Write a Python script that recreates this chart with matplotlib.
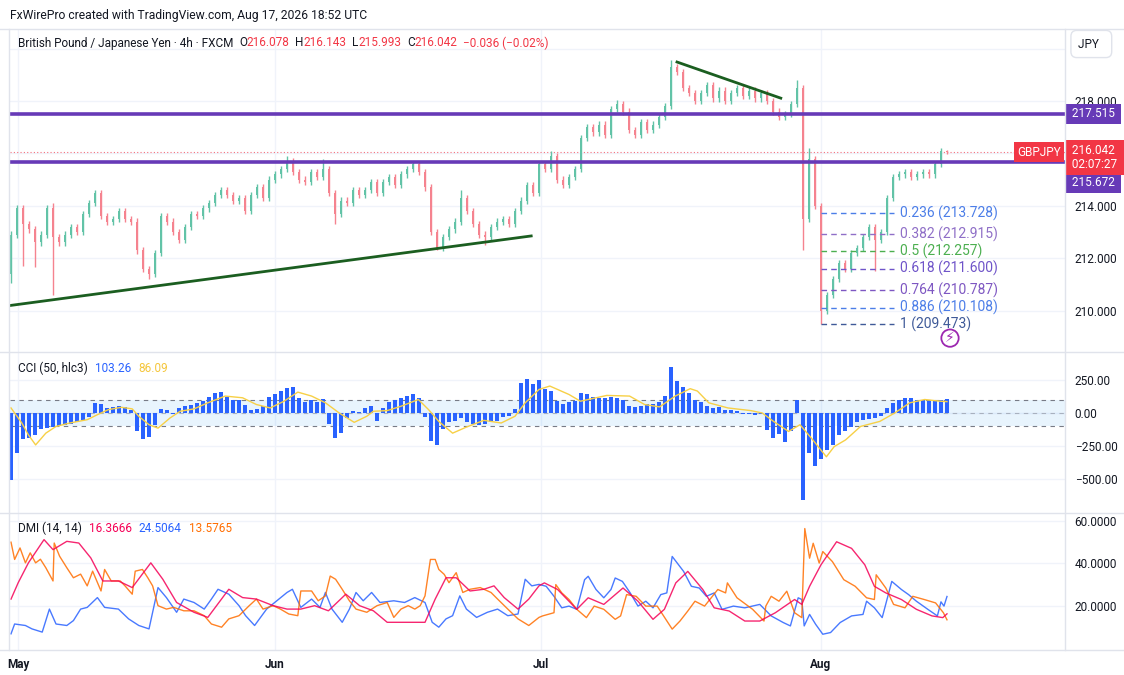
import matplotlib.pyplot as plt
import matplotlib.transforms as mtransforms
from matplotlib.lines import Line2D
import numpy as np

plt.rcParams['font.family'] = ['Roboto', 'DejaVu Sans']

# GBPJPY 4h (one close per ~6px column)
first_open = 211.4
closes = [212.9, 213.9, 213.3, 213.1, 212.6, 212.9, 213.9, 212.8, 212.6, 212.9,
          213.2, 213.0, 213.7, 214.1, 214.5, 213.6, 213.4, 213.5, 213.8, 213.5,
          213.4, 212.3, 211.6, 211.4, 212.2, 213.6, 213.4, 213.0, 212.7, 213.2,
          213.7, 213.6, 213.9, 214.1, 214.4, 214.6, 214.4, 214.2, 214.3, 213.8,
          214.4, 214.7, 214.3, 215.0, 215.2, 215.4, 215.7, 215.3, 215.0, 214.9,
          215.3, 215.1, 215.4, 214.5, 213.7, 214.2, 214.1, 214.6, 214.4, 214.6,
          214.9, 214.5, 214.9, 215.1, 214.8, 215.2, 215.4, 215.6, 215.3, 214.7,
          213.0, 212.4, 212.8, 213.1, 213.4, 214.3, 213.8, 213.3, 212.9, 212.8,
          213.2, 213.4, 213.5, 213.3, 213.8, 214.2, 214.8, 214.5, 215.6, 215.4,
          215.9, 215.0, 214.8, 215.1, 215.4, 216.6, 217.0, 216.8, 217.1, 216.7,
          217.7, 217.9, 217.6, 216.9, 216.7, 217.2, 216.9, 217.1, 217.4, 217.8,
          219.3, 219.1, 218.5, 218.3, 218.0, 218.3, 218.6, 218.1, 218.4, 218.0,
          218.3, 218.5, 218.2, 218.4, 218.1, 218.3, 218.0, 217.6, 217.4, 217.5,
          217.9, 218.5, 213.5, 215.8, 214.0, 210.0, 210.6, 211.2, 211.8, 211.6,
          212.2, 212.4, 212.8, 213.2, 212.7, 213.0, 214.3, 215.1, 215.2, 215.3,
          215.1, 215.2, 215.3, 215.2, 215.6, 216.078, 216.042]
# long wicks: bar -> (high, low), None = ordinary wick
extremes = {0: (None, 211.05), 2: (None, 211.7), 4: (None, 211.66), 7: (214.1, 210.6),
            23: (None, 211.2), 46: (215.9, None), 52: (215.8, None), 54: (None, 213.3),
            71: (None, 212.3), 75: (214.6, None), 79: (None, 212.5), 90: (216.1, None),
            101: (218.04, None), 110: (219.56, None), 131: (218.8, None), 132: (None, 212.3),
            133: (216.2, None), 135: (None, 209.47), 144: (None, 211.5), 156: (216.143, 215.993)}
wick = 0.12

cci = [-510, -300, -200, -190, -170, -125, -115, -110, -95, -90,
       -85, -70, -50, -30, 75, 65, 40, 45, 50, 45,
       20, -140, -200, -185, -90, 30, 20, -10, 40, 55,
       60, 75, 90, 120, 155, 160, 120, 100, 95, 60,
       25, 30, 55, 120, 140, 170, 190, 195, 110, 80,
       95, 85, 105, -80, -190, -150, -40, 15, 10, 35,
       50, -60, 40, 80, 95, 110, 130, 140, 110, -30,
       -210, -240, -120, -70, -60, -40, -70, -85, -90, -80,
       -70, -60, -30, -20, 30, 230, 260, 220, 250, 180,
       170, 90, 70, 80, 90, 150, 140, 120, 115, 110,
       120, 110, 100, 55, 45, 50, 70, 65, 80, 130,
       345, 240, 200, 150, 95, 85, 55, 40, 45, 25,
       20, 15, -5, -10, -15, -10, -130, -190, -160, -220,
       -140, 100, -660, -300, -400, -350, -280, -240, -170, -140,
       -110, -70, -55, -45, -35, -20, 40, 75, 95, 115,
       110, 100, 95, 90, 95, 100, 103.26]
cci_ma = [(0, 38), (1.8, -76), (2.9, -166), (4.1, -242), (5.8, -153), (7.5, -102), (9.8, -76),
          (12.7, -51), (14.4, -13), (16.2, 25), (18.4, 43), (20.2, 31), (21.3, -25), (23.0, -89),
          (24.5, -115), (26.5, -38), (28.2, 13), (30.5, 31), (32.8, 77), (35.7, 128), (38.6, 115),
          (40.9, 64), (43.2, 38), (45.5, 89), (47.8, 158), (50.1, 128), (52.4, 77), (54.7, 0),
          (57.2, -71), (59.3, -25), (60.4, 13), (62.7, 18), (65.0, 51), (67.9, 102), (69.6, 25),
          (71.3, -64), (73.6, -153), (75.9, -107), (78.8, -56), (81.7, -76), (84.0, -25),
          (85.7, 77), (88.0, 178), (89.8, 204), (93.0, 140), (94.9, 89), (99.3, 133), (103.1, 128),
          (105.6, 64), (108.1, 46), (110.7, 128), (113.2, 184), (114.4, 166), (116.3, 77),
          (119.5, 38), (123.3, 18), (125.2, 0), (127.1, -64), (129.6, -140), (131.5, -89),
          (133.4, -191), (135.9, -332), (137.2, -255), (139.1, -204), (141.6, -102), (144.8, -64),
          (147.3, 0), (149.8, 77), (152.3, 102), (154.9, 89), (156, 86.09)]

adx = [(0, 23.3), (1.2, 31), (2.9, 40.3), (5.5, 51.2), (7.0, 46.5), (9.3, 50.4), (11.3, 49.6),
       (13.3, 42.6), (15.3, 31.8), (17.9, 31.8), (20.2, 28.7), (23.3, 40.3), (25.3, 32.6),
       (27.6, 21.7), (30.5, 17.1), (32.8, 14.7), (36.3, 27.9), (38.6, 24), (40.9, 23.3),
       (43.7, 20.2), (46.0, 18.6), (48.3, 18.6), (50.6, 20.2), (52.9, 17.8), (55.8, 25.6),
       (58.1, 20.2), (60.4, 17.8), (62.7, 12.4), (65.0, 12.4), (69.0, 12.4), (70.7, 23.3),
       (72.5, 33.3), (74.2, 33.3), (76.5, 27.1), (78.8, 27.9), (80.5, 29.5), (82.2, 24),
       (84.5, 18.6), (86.3, 23.3), (88.0, 29.5), (88.9, 30.9), (91.1, 27.8), (94.3, 18.5),
       (96.2, 23.9), (98.8, 20.8), (102.0, 28.5), (104.5, 22.3), (107.0, 13.8), (108.9, 18.5),
       (110.8, 30.9), (112.8, 36.3), (115.3, 27.8), (117.2, 19.2), (119.7, 17.7), (122.3, 13),
       (124.8, 13), (127.4, 16.9), (130.6, 23.1), (131.8, 20.8), (133.1, 29.3), (135.0, 39.4),
       (137.6, 50.2), (140.1, 47.1), (142.3, 39.4), (143.9, 29.3), (145.8, 26.2), (148.4, 23.1),
       (150.9, 18.5), (153.5, 15.4), (155.3, 14.6), (156, 16.37)]
plus_di = [(0, 7), (0.6, 11.6), (2.4, 10.9), (3.5, 9.3), (5.2, 7.8), (6.4, 18.6), (7.5, 11.6),
           (9.3, 10.9), (10.4, 13.2), (11.6, 18.6), (12.7, 19.4), (14.4, 24), (15.6, 19.4),
           (17.9, 18.6), (19.6, 14), (21.3, 10.9), (23.0, 9.3), (24.5, 28.7), (25.9, 24),
           (27.6, 17.1), (28.8, 23.3), (30.5, 21.7), (32.2, 18.6), (33.4, 23.3), (34.5, 27.9),
           (36.3, 25.6), (38.0, 20.2), (39.1, 15.5), (40.6, 10.9), (42.6, 18.6), (44.3, 22.5),
           (46.0, 26.4), (46.9, 27.9), (48.3, 19.4), (50.1, 23.3), (51.5, 19.4), (52.4, 26.4),
           (53.5, 18.6), (55.2, 12.4), (56.4, 18.6), (57.5, 26.4), (58.7, 22.5), (60.1, 26.4),
           (61.5, 21.7), (63.8, 22.5), (65.6, 21.7), (67.3, 24), (69.0, 21.7), (70.2, 12.4),
           (71.3, 10.1), (72.5, 14), (73.6, 15.5), (74.8, 24.8), (75.9, 18.6), (77.6, 14.7),
           (79.4, 17.1), (81.1, 18.6), (82.8, 15.5), (84.5, 16.3), (85.7, 32.6), (86.8, 29.5),
           (88.0, 30.2), (89.2, 29.3), (90.5, 24.6), (91.8, 19.2), (93.0, 20), (94.3, 18.5),
           (95.6, 32.4), (96.2, 34), (97.5, 27.8), (98.8, 23.9), (100.0, 27.8), (100.7, 33.2),
           (101.9, 31.6), (103.2, 26.2), (104.5, 20), (105.8, 22.3), (107.0, 19.2), (108.3, 25.4),
           (109.3, 26.2), (110.2, 43.3), (112.1, 36.3), (113.4, 29.3), (114.7, 28.5), (115.9, 24.6),
           (117.2, 26.2), (118.5, 18.5), (120.4, 20), (122.3, 19.2), (124.8, 20.8), (126.7, 15.4),
           (128.7, 12.3), (129.9, 10.7), (131.2, 23.9), (131.8, 23.1), (132.2, 10.7), (133.1, 16.1),
           (134.1, 11.5), (135.3, 6.8), (136.6, 7.6), (138.2, 12.3), (140.1, 15.4), (142.0, 16.1),
           (142.6, 22.3), (143.9, 19.2), (145.2, 14.6), (146.8, 31.6), (148.4, 27.8), (149.6, 25.4),
           (150.9, 22.3), (152.8, 18.5), (154.4, 15.4), (155.0, 22), (155.5, 20), (156, 24.51)]
minus_di = [(0, 50), (0.6, 41.9), (1.5, 47.3), (2.4, 40.3), (3.2, 45), (4.1, 40.3), (4.9, 42),
            (5.8, 38), (7.0, 31.8), (7.2, 49.6), (8.1, 43.4), (9.3, 38), (10.4, 33.3), (11.6, 35),
            (12.7, 29.5), (13.6, 36.4), (15.0, 27.1), (15.6, 37.2), (16.7, 31.8), (18.2, 31.8),
            (19.0, 29.5), (20.2, 25.6), (20.7, 36.4), (21.9, 37.2), (22.8, 33.3), (23.6, 29.5),
            (24.5, 20.2), (25.9, 18.6), (27.1, 19.4), (28.8, 17.8), (30.5, 17.8), (32.2, 15.5),
            (33.4, 11.6), (35.1, 10.1), (36.3, 14), (38.0, 15.5), (39.7, 20.2), (40.9, 23.3),
            (42.0, 18.6), (43.7, 20.2), (44.9, 18.6), (46.3, 16.3), (47.8, 15.5), (48.3, 27.1),
            (50.1, 27.1), (51.2, 22.5), (52.4, 24.8), (53.2, 34.1), (54.1, 32.6), (55.2, 27.9),
            (56.4, 22.5), (57.5, 18.6), (59.3, 17.1), (61.0, 20.2), (62.7, 21.7), (63.8, 14.7),
            (65.0, 18.6), (66.2, 20.2), (67.3, 18.6), (68.2, 20.2), (69.0, 24.8), (69.9, 41.9),
            (70.7, 41.9), (71.3, 37.2), (72.2, 34.9), (73.0, 31), (74.2, 35.7), (75.3, 26.4),
            (76.5, 27.9), (78.2, 28.7), (80.0, 26.4), (81.1, 23.3), (82.8, 18.6), (84.5, 14),
            (86.3, 10.9), (88.0, 14.7), (88.6, 15.4), (90.5, 16.9), (90.8, 30.1), (91.8, 26.2),
            (93.0, 23.1), (94.3, 18.5), (95.9, 14.6), (97.2, 20), (98.8, 18.5), (100.7, 13.8),
            (101.6, 15.4), (102.6, 25.4), (104.2, 24.6), (105.8, 20), (107.7, 20), (110.2, 9.2),
            (111.5, 13), (112.8, 17.7), (114.0, 22.3), (115.6, 20), (117.8, 27.8), (119.1, 26.2),
            (119.4, 30.9), (121.0, 23.9), (123.6, 18.5), (125.5, 13), (125.8, 20), (126.7, 24.6),
            (128.0, 22.3), (129.3, 27), (130.6, 16.9), (131.8, 14.6), (132.3, 56.4), (133.1, 42.5),
            (133.7, 49.5), (134.7, 40.2), (135.3, 45.6), (136.9, 40.9), (138.8, 32.4), (140.7, 29.3),
            (142.6, 23.9), (143.9, 23.1), (144.2, 34.7), (145.8, 28.5), (147.1, 20.8), (149.0, 19.2),
            (150.3, 24.6), (152.2, 23.1), (154.1, 21.5), (155.4, 16.9), (156, 13.58)]

month_pos = [1.2, 44.0, 88.3, 135.0]
month_names = ['May', 'Jun', 'Jul', 'Aug']

levels = [217.515, 215.672]
last_price = 216.042
support = [(0, 210.2), (86.7, 212.85)]
resistance = [(111, 219.49), (128.3, 218.11)]
fib_ratios = ['0.236', '0.382', '0.5', '0.618', '0.764', '0.886', '1']
fib_prices = [213.728, 212.915, 212.257, 211.600, 210.787, 210.108, 209.473]
fib_colors = ['#4c7ee8', '#8f6fc7', '#4caf50', '#6f54c9', '#7e57c2', '#4c7ee8', '#3f5a98']
fib_start, fib_end = 135, 147.2

DARK = '#131722'
RED = '#f23645'
GRID = '#f0f3fa'
LINE = '#e0e3eb'

W, H = 1124, 675
fig = plt.figure(figsize=(W / 100, H / 100), dpi=100)


def box(l, t, r, b):
    return [l / W, 1 - b / H, (r - l) / W, (b - t) / H]


ax = fig.add_axes(box(10, 29, 1065, 352))
ax2 = fig.add_axes(box(10, 352, 1065, 513), sharex=ax)
ax3 = fig.add_axes(box(10, 513, 1065, 650), sharex=ax)

for a in (ax, ax2, ax3):
    for s in a.spines.values():
        s.set_visible(False)
    a.yaxis.tick_right()
    a.tick_params(axis='y', length=0, pad=7, labelsize=8.5, labelcolor=DARK)
    a.tick_params(axis='x', length=0)
    a.set_xticks(month_pos)
    a.grid(True, color=GRID, lw=1)
    a.set_axisbelow(True)
ax.tick_params(labelbottom=False)
ax2.tick_params(labelbottom=False)
ax3.set_xticklabels(month_names, fontsize=8.5, fontweight='bold', color=DARK)
ax3.tick_params(axis='x', pad=6)
ax.set_xlim(-0.17, 175.67)

# candles
c = np.array(closes)
o = np.array([first_open] + closes[:-1])
x = np.arange(len(c))
hi = np.maximum(o, c) + wick
lo = np.minimum(o, c) - wick
for k, (h, l) in extremes.items():
    if h is not None:
        hi[k] = h
    if l is not None:
        lo[k] = l
col = np.where(c >= o, '#62c3a7', '#f5838f')
ax.vlines(x, lo, hi, colors=col, lw=1, zorder=2)
ax.bar(x, np.maximum(np.abs(c - o), 0.03), bottom=np.minimum(o, c), width=0.45,
       color=col, zorder=2)

for lv in levels:
    ax.axhline(lv, color='#673ab7', lw=2.6, zorder=3)
ax.axhline(last_price, color=RED, lw=0.8, ls=(0, (1, 2)), alpha=0.7, zorder=1)
for seg in (support, resistance):
    ax.plot([p[0] for p in seg], [p[1] for p in seg], color='#1b5e20', lw=2, zorder=3)

for r, p, fc in zip(fib_ratios, fib_prices, fib_colors):
    ax.hlines(p, fib_start, fib_end, colors=fc, linestyles=(0, (4, 3)), lw=1, zorder=3)
    ax.text(fib_end + 1, p, f'{r} ({p:.3f})', color=fc, fontsize=10, va='center', zorder=4)

ax.set_ylim(208.42, 220.75)
ax.set_yticks([210, 212, 214, 216, 218, 220])
ax.set_yticklabels(['210.000', '212.000', '214.000', '', '218.000', ''])

ax.text(0.891, 0.043, '⚡', transform=ax.transAxes, ha='center', va='center',
        color='#9c27b0', fontsize=10, zorder=5,
        bbox=dict(boxstyle='circle,pad=0.12', fc='white', ec='#9c27b0', lw=1.3))

# price scale labels
bt = mtransforms.blended_transform_factory(ax.transAxes, ax.transData)
ax.annotate(' 217.515 ', xy=(1, levels[0]), xycoords=bt, xytext=(3, 0), textcoords='offset points',
            ha='left', va='center', color='white', fontsize=8.5, annotation_clip=False,
            bbox=dict(boxstyle='square,pad=0.3', fc='#673ab7', ec='none'))
ax.annotate(' 215.672 ', xy=(1, levels[1]), xycoords=bt, xytext=(3, -15), textcoords='offset points',
            ha='left', va='center', color='white', fontsize=8.5, annotation_clip=False,
            bbox=dict(boxstyle='square,pad=0.3', fc='#673ab7', ec='none'))
ax.annotate(' 216.042 \n 02:07:27 ', xy=(1, last_price), xycoords=bt, xytext=(3, 6),
            textcoords='offset points', ha='left', va='top', color='white', fontsize=8.5,
            linespacing=1.15, annotation_clip=False,
            bbox=dict(boxstyle='square,pad=0.3', fc=RED, ec='none'))
ax.annotate('GBPJPY', xy=(1, last_price), xycoords=bt, xytext=(-3, 0), textcoords='offset points',
            ha='right', va='center', color='white', fontsize=8.5, annotation_clip=False, zorder=6,
            bbox=dict(boxstyle='square,pad=0.3', fc=RED, ec='none'))

# CCI pane
ax2.axhspan(-100, 100, color='#2196f3', alpha=0.1, lw=0)
for lv, al in ((100, 1), (-100, 1), (0, 0.5)):
    ax2.axhline(lv, color='#787b86', lw=0.8, ls=(0, (4, 4)), alpha=al)
ax2.bar(np.arange(len(cci)), cci, width=0.55, color='#2962ff', zorder=2)
ax2.plot([p[0] for p in cci_ma], [p[1] for p in cci_ma], color='#f7d046', lw=1, zorder=3)
ax2.set_ylim(-758, 462)
ax2.set_yticks([-500, -250, 0, 250])
ax2.set_yticklabels(['\u2212500.00', '\u2212250.00', '0.00', '250.00'])

# DMI pane
for ser, cl in ((plus_di, '#2962ff'), (minus_di, '#ff6d00'), (adx, '#f50057')):
    ax3.plot([p[0] for p in ser], [p[1] for p in ser], color=cl, lw=1, alpha=0.85)
ax3.set_ylim(-0.6, 63.7)
ax3.set_yticks([20, 40, 60])
ax3.set_yticklabels(['20.0000', '40.0000', '60.0000'])

# frame lines
for ypx in (29, 352, 513, 650):
    fig.add_artist(Line2D([0, 1], [1 - ypx / H] * 2, color=LINE, lw=1))
fig.add_artist(Line2D([1065 / W] * 2, [1 - 650 / H, 1 - 29 / H], color=LINE, lw=1))
fig.add_artist(Line2D([9 / W] * 2, [1 - 650 / H, 1 - 29 / H], color=LINE, lw=1))

fig.text(10 / W, 1 - 15 / H, 'FxWirePro created with TradingView.com, Aug 17, 2026 18:52 UTC',
         fontsize=8.7, color=DARK, va='center')
fig.text(1078 / W, 1 - 44 / H, 'JPY  ', fontsize=8.5, color=DARK, va='center',
         bbox=dict(boxstyle='round,pad=0.6,rounding_size=0.5', fc='white', ec=LINE))


def legend_line(host, x_px, y_px, parts, size=8.5):
    t = fig.text(x_px / W, 1 - y_px / H, parts[0][0], color=parts[0][1], fontsize=size, va='center')
    for s, cl, gap in parts[1:]:
        t = host.annotate(s, xy=(1, 0.5), xycoords=t, xytext=(gap, 0), textcoords='offset points',
                          color=cl, fontsize=size, va='center', annotation_clip=False, zorder=10)


legend_line(ax, 18, 43, [('British Pound / Japanese Yen \u00b7 4h \u00b7 FXCM', DARK),
                         ('O', DARK, 4), ('216.078', RED, 0), ('H', DARK, 4), ('216.143', RED, 0),
                         ('L', DARK, 4), ('215.993', RED, 0), ('C', DARK, 4), ('216.042', RED, 0),
                         ('\u22120.036 (\u22120.02%)', RED, 4)])
legend_line(ax2, 18, 368, [('CCI (50, hlc3)', DARK), ('103.26', '#2962ff', 5),
                           ('86.09', '#f5c63c', 5)])
legend_line(ax3, 18, 528, [('DMI (14, 14)', DARK), ('16.3666', '#f50057', 5),
                           ('24.5064', '#2962ff', 5), ('13.5765', '#ff6d00', 5)])

fig.savefig('out.png', dpi=100)
